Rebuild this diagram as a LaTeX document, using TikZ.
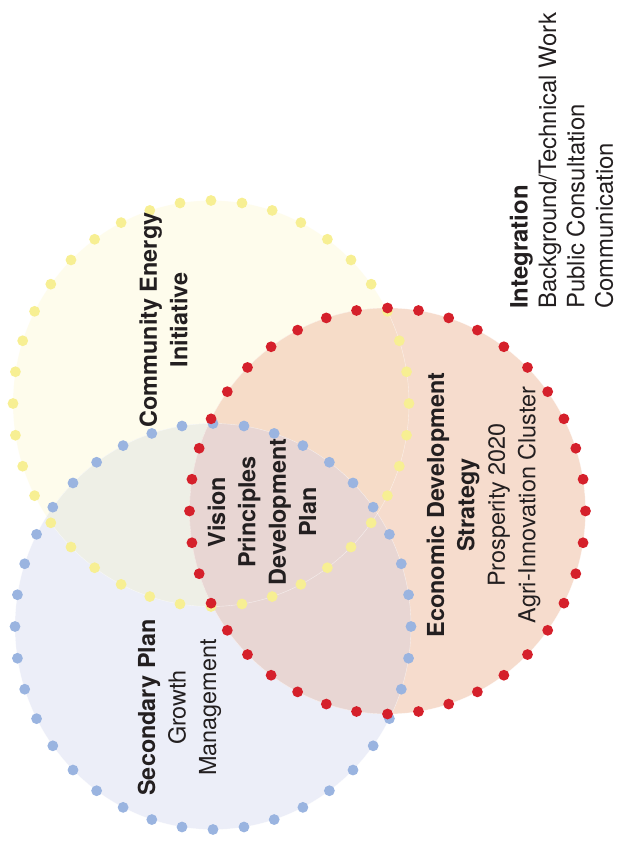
\documentclass[tikz,border=0pt]{standalone}
\usepackage{fontspec}
\setmainfont{TeX Gyre Heros}

\definecolor{yfill}{HTML}{FEFCEC}
\definecolor{bfill}{HTML}{ECEEF8}
\definecolor{rfill}{HTML}{F6DCCD}
\definecolor{ybfill}{HTML}{EEEFE6}
\definecolor{yrfill}{HTML}{F6DCC8}
\definecolor{brfill}{HTML}{E8D6D3}
\definecolor{ybrfill}{HTML}{EAD9CC}
\definecolor{ydot}{HTML}{F7EF93}
\definecolor{bdot}{HTML}{9AB4E0}
\definecolor{rdot}{HTML}{D5202B}
\definecolor{ink}{HTML}{231F20}

\tikzset{
  rim/.style={x radius=198bp, y radius=203bp},
  lbl/.style={rotate=90, align=center, inner sep=0pt, text=ink,
    font=\fontsize{23.5}{30.5}\selectfont},
  intlbl/.style={rotate=90, align=left, inner sep=0pt, text=ink, anchor=west,
    font=\fontsize{24}{28.5}\selectfont}
}

\begin{document}
\begin{tikzpicture}[x=1bp,y=1bp]
\useasboundingbox (0,0) rectangle (619,842);

\coordinate (yc) at (211,438.5);
\coordinate (bc) at (213,215.5);
\coordinate (rc) at (387.5,331);

% discs
\fill[yfill] (yc) ellipse [rim];
\fill[bfill] (bc) ellipse [rim];
\fill[rfill] (rc) ellipse [rim];
\begin{scope}
\clip (yc) ellipse [rim];
\fill[ybfill] (bc) ellipse [rim];
\fill[yrfill] (rc) ellipse [rim];
\clip (bc) ellipse [rim];
\fill[ybrfill] (rc) ellipse [rim];
\end{scope}
\begin{scope}
\clip (bc) ellipse [rim];
\fill[brfill] (rc) ellipse [rim];
\end{scope}
\draw[white, opacity=0.6, line width=0.4bp] (yc) ellipse [rim];
\draw[white, opacity=0.6, line width=0.4bp] (bc) ellipse [rim];
\draw[white, opacity=0.6, line width=0.4bp] (rc) ellipse [rim];

% dotted rims
\foreach \a in {0,9,...,351}
  \fill[ydot] (yc) ++(\a:198bp and 203bp) circle [radius=5.4bp];
\foreach \a in {0,9,...,351}
  \fill[bdot] (bc) ++(\a:198bp and 203bp) circle [radius=5.4bp];
\foreach \a in {0,9,...,351}
  \fill[rdot] (rc) ++(\a:198bp and 203bp) circle [radius=5.4bp];

% labels
\node[lbl] (cei) at (163.5,522) {\textbf{Community Energy}\\\textbf{Initiative}};
\node[lbl] (vpdp) at (262,330) {\textbf{Vision}\\\textbf{Principles}\\\textbf{Development}\\\textbf{Plan}};
\node[lbl] (eds) at (483.5,337) {\textbf{Economic Development}\\\textbf{Strategy}\\Prosperity 2020\\Agri-Innovation Cluster};
\node[lbl] (sp) at (179.5,134.5) {\textbf{Secondary Plan}\\Growth\\Management};
\node[intlbl] (intg) at (561.5,533) {\textbf{Integration}\\Background/Technical Work\\Public Consultation\\Communication};
%\node[lbl] at (300,700) {};

\end{tikzpicture}
\end{document}
